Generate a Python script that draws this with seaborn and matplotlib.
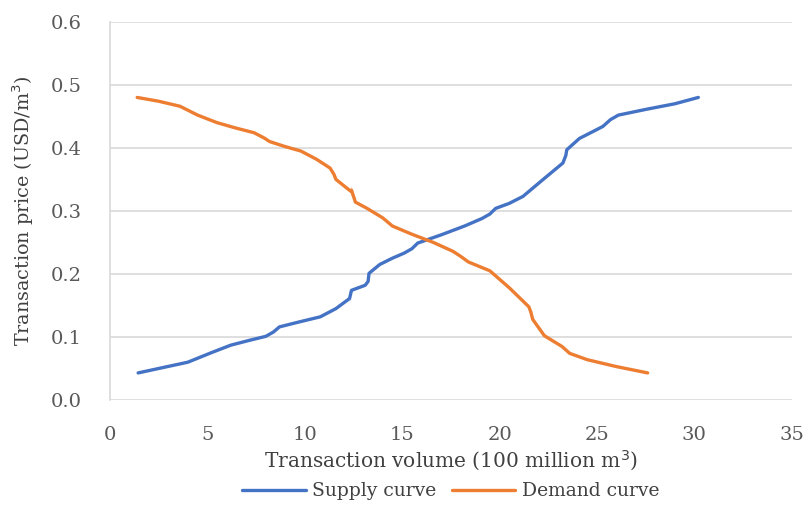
import matplotlib
matplotlib.use("Agg")
import matplotlib.pyplot as plt
import seaborn as sns
import pandas as pd

# supply curve (volume, price)
supply_x = [1.45, 2.5, 4.0, 5.2, 6.2, 7.2, 8.0, 8.4, 8.7, 9.6, 10.8, 11.6,
            12.3, 12.3, 12.4, 13.1, 13.25, 13.3, 13.85, 14.5, 15.1, 15.5,
            15.8, 17.0, 18.2, 19.1, 19.5, 19.8, 20.5, 21.2, 22.2, 23.25,
            23.4, 23.45, 24.1, 24.8, 25.3, 25.7, 26.1, 27.5, 29.0, 30.2]
supply_y = [0.043, 0.050, 0.060, 0.075, 0.087, 0.095, 0.101, 0.108, 0.116,
            0.123, 0.132, 0.145, 0.157, 0.165, 0.174, 0.182, 0.188, 0.201,
            0.215, 0.225, 0.233, 0.240, 0.249, 0.262, 0.276, 0.288, 0.295,
            0.304, 0.312, 0.323, 0.349, 0.376, 0.388, 0.397, 0.415, 0.426,
            0.434, 0.445, 0.452, 0.461, 0.470, 0.480]

# demand curve (volume, price)
demand_x = [1.4, 2.5, 3.6, 4.5, 5.5, 6.4, 7.4, 7.9, 8.2, 9.0, 9.8, 10.6,
            11.3, 11.5, 11.6, 12.35, 12.4, 12.35, 12.6, 13.2, 14.0, 14.5,
            15.5, 16.6, 17.6, 18.0, 18.4, 19.5, 20.5, 21.5, 21.6, 21.7,
            22.3, 23.2, 23.6, 24.5, 26.0, 27.6]
demand_y = [0.480, 0.474, 0.466, 0.452, 0.440, 0.432, 0.424, 0.416, 0.410,
            0.402, 0.395, 0.382, 0.368, 0.358, 0.350, 0.340, 0.333, 0.323,
            0.314, 0.304, 0.289, 0.276, 0.263, 0.250, 0.236, 0.228, 0.219,
            0.205, 0.178, 0.148, 0.140, 0.128, 0.102, 0.085, 0.074, 0.064,
            0.053, 0.043]

sns.set_theme(style="white")
plt.rcParams["font.family"] = ["DejaVu Serif"]

fig, ax = plt.subplots(figsize=(8.08, 5.07), dpi=100)
fig.subplots_adjust(left=0.136, right=0.98, top=0.957, bottom=0.211)

sup = pd.DataFrame({"x": supply_x, "y": supply_y})
dem = pd.DataFrame({"x": demand_x, "y": demand_y})
sns.lineplot(data=sup, x="x", y="y", sort=False, color="#4472C4", lw=2.4,
             label="Supply curve", ax=ax)
sns.lineplot(data=dem, x="x", y="y", sort=False, color="#ED7D31", lw=2.4,
             label="Demand curve", ax=ax)

ax.set_xlim(0, 35)
ax.set_ylim(0, 0.6)
ax.set_xticks(range(0, 36, 5))
ax.set_yticks([i / 10 for i in range(7)])
ax.set_yticklabels([f"{i / 10:.1f}" for i in range(7)])
ax.grid(axis="y", color="#D9D9D9", lw=1.2)
ax.set_axisbelow(True)
for s in ["top", "right", "bottom"]:
    ax.spines[s].set_visible(False)
ax.spines["left"].set_color("#D9D9D9")
ax.spines["left"].set_linewidth(1.2)
ax.tick_params(axis="both", colors="#595959", labelsize=14, length=0)
ax.tick_params(axis="x", pad=19)
ax.tick_params(axis="y", pad=20)

ax.set_xlabel("Transaction volume (100 million m$^3$)", fontsize=14.5,
              color="#404040", labelpad=3)
ax.set_ylabel("Transaction price (USD/m$^3$)", fontsize=13.8,
              color="#404040", labelpad=11)

leg = ax.legend(loc="center", bbox_to_anchor=(0.5, -0.241), ncol=2,
                frameon=False, fontsize=13.5, handlelength=3.4,
                columnspacing=0.8, handletextpad=0.35)
for t in leg.get_texts():
    t.set_color("#404040")

plt.savefig("out.png", dpi=100)
plt.close(fig)
